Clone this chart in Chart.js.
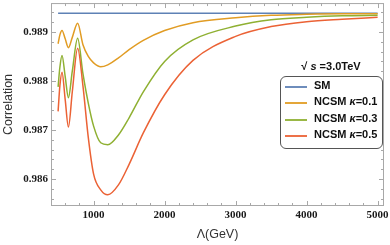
<!DOCTYPE html>
<html>
<head>
<meta charset="utf-8">
<script src="https://cdn.jsdelivr.net/npm/chart.js@4"></script>
<style>
  html, body { margin: 0; padding: 0; background: #fff; }
  #wrap { position: relative; width: 390px; height: 245px; overflow: hidden; }
  #energy {
    position: absolute; left: 286px; top: 60px; width: 90px; height: 13px;
    line-height: 13px; text-align: center;
    font: bold 11px "Liberation Sans", Arial, sans-serif; color: #111;
  }
  #legend {
    position: absolute; left: 280px; top: 76px; width: 101px; height: 71px;
    border: 1px solid #555; border-radius: 6px; background: #fff;
  }
  .row { position: absolute; left: 0; height: 16px; width: 101px; }
  .row .swatch { position: absolute; left: 4px; top: 7px; width: 22px; height: 2px; opacity: 0.9; }
  .row .txt {
    position: absolute; left: 33px; top: 0; line-height: 16px; white-space: nowrap;
    font: bold 11px "Liberation Sans", Arial, sans-serif; color: #111;
  }
</style>
</head>
<body>
<div id="wrap">
  <canvas id="corrChart" width="390" height="245"></canvas>
  <div id="energy">√ <i>s</i> =3.0TeV</div>
  <div id="legend"></div>
</div>
<script>
const lambdaPts = [500, 525, 555, 600, 645, 700, 775, 850, 925, 1000, 1100, 1200,
                   1350, 1500, 1700, 2000, 2400, 3000, 3500, 4000, 4500, 5000];

const smLambda = [500, 5000];
const smCorr = [0.98938, 0.98938];

const corrK01 = [0.98876, 0.98894, 0.98903, 0.98886, 0.98868, 0.98889, 0.98918, 0.98874,
                 0.98850, 0.98837, 0.98829, 0.98833, 0.98847, 0.98864, 0.98883, 0.98903,
                 0.98919, 0.98929, 0.98934, 0.98936, 0.98937, 0.98937];
const corrK03 = [0.98788, 0.98828, 0.98852, 0.98809, 0.98766, 0.98820, 0.98887, 0.98815,
                 0.98755, 0.98708, 0.98674, 0.98670, 0.98690, 0.98725, 0.98778, 0.98840,
                 0.98884, 0.98912, 0.98925, 0.98930, 0.98933, 0.98934];
const corrK05 = [0.98738, 0.98790, 0.98818, 0.98762, 0.98706, 0.98778, 0.98867, 0.98790,
                 0.98685, 0.98610, 0.98578, 0.98568, 0.98588, 0.98630, 0.98694, 0.98772,
                 0.98842, 0.98891, 0.98911, 0.98921, 0.98926, 0.98930];

const seriesLabels = ["SM", "NCSM κ=0.1", "NCSM κ=0.3", "NCSM κ=0.5"];
const seriesColors = ["#5E81B5", "#E19C24", "#8FB032", "#EB6235"];

// tick positions: majors get a label, minors are just marks
const xTickValues = [];
for (let v = 600; v <= 5000; v += 200) xTickValues.push(v);
const yTickValues = [];
for (let i = 0; i <= 19; i++) yTickValues.push((9856 + 2 * i) / 10000);

const toPoints = (xs, ys) => xs.map((x, i) => ({ x: x, y: ys[i] }));

// legend (html overlay)
const legendBox = document.getElementById("legend");
seriesLabels.forEach((lab, i) => {
  const row = document.createElement("div");
  row.className = "row";
  row.style.top = (1.5 + 16.5 * i) + "px";
  row.innerHTML = '<div class="swatch" style="background:' + seriesColors[i] + '"></div>' +
    '<div class="txt">' + lab.replace("κ", "<i>κ</i>") + '</div>';
  legendBox.appendChild(row);
});

// frame with inward tick marks on all four sides
const framePlugin = {
  id: "frame",
  beforeDatasetsDraw(chart) {
    const { ctx, chartArea: a, scales: { x, y } } = chart;
    ctx.save();
    ctx.strokeStyle = "#a8a8a8";
    ctx.lineWidth = 1;
    ctx.strokeRect(a.left + 0.5, a.top + 0.5, a.right - a.left - 1, a.bottom - a.top - 1);
    ctx.beginPath();
    x.ticks.forEach(t => {
      if (t.value > 5000) return;
      const px = Math.round(x.getPixelForValue(t.value)) + 0.5;
      const len = t.label ? 5 : 3;
      ctx.moveTo(px, a.bottom); ctx.lineTo(px, a.bottom - len);
      ctx.moveTo(px, a.top); ctx.lineTo(px, a.top + len);
    });
    y.ticks.forEach(t => {
      const py = Math.round(y.getPixelForValue(t.value)) + 0.5;
      const len = t.label ? 5 : 3;
      ctx.moveTo(a.left, py); ctx.lineTo(a.left + len, py);
      ctx.moveTo(a.right, py); ctx.lineTo(a.right - len, py);
    });
    ctx.stroke();
    ctx.restore();
  }
};

const lineSet = (label, data, color, order) => ({
  label: label,
  data: data,
  borderColor: color,
  borderWidth: 1.5,
  pointRadius: 0,
  fill: false,
  cubicInterpolationMode: "monotone",
  order: order
});

new Chart(document.getElementById("corrChart"), {
  type: "line",
  data: {
    datasets: [
      lineSet(seriesLabels[0], toPoints(smLambda, smCorr), seriesColors[0], 3),
      lineSet(seriesLabels[1], toPoints(lambdaPts, corrK01), seriesColors[1], 2),
      lineSet(seriesLabels[2], toPoints(lambdaPts, corrK03), seriesColors[2], 1),
      lineSet(seriesLabels[3], toPoints(lambdaPts, corrK05), seriesColors[3], 0)
    ]
  },
  options: {
    responsive: false,
    animation: false,
    layout: { padding: { top: 0, right: 6, bottom: 0, left: 0 } },
    plugins: { legend: { display: false }, tooltip: { enabled: false } },
    scales: {
      x: {
        type: "linear",
        min: 400,
        max: 5090,
        grid: { display: false, drawTicks: false },
        border: { display: false },
        afterBuildTicks: s => { s.ticks = xTickValues.concat([5090]).map(v => ({ value: v })); },
        afterFit: s => { s.height = 39; },
        ticks: {
          autoSkip: false, maxRotation: 0, minRotation: 0, padding: 3,
          color: "#1a1a1a",
          font: { family: "'Liberation Serif', 'Times New Roman', serif", size: 11, weight: "bold" },
          callback: v => (v % 1000 === 0 ? String(v) : "")
        },
        title: {
          display: true, text: "Λ(GeV)", color: "#333",
          font: { family: "'Liberation Sans', Arial, sans-serif", size: 12.5 },
          padding: { top: 0, bottom: 2.5 }
        }
      },
      y: {
        type: "linear",
        min: 0.98545,
        max: 0.98959,
        grid: { display: false, drawTicks: false },
        border: { display: false },
        afterBuildTicks: s => { s.ticks = yTickValues.map(v => ({ value: v })); },
        afterFit: s => { s.width = 51; },
        ticks: {
          autoSkip: false, padding: 3,
          color: "#1a1a1a",
          font: { family: "'Liberation Serif', 'Times New Roman', serif", size: 11, weight: "bold", lineHeight: 0.01 },
          callback: v => (Math.abs(v * 1000 - Math.round(v * 1000)) < 1e-6 ? v.toFixed(3) : "")
        },
        title: {
          display: true, text: "Correlation", color: "#333",
          font: { family: "'Liberation Sans', Arial, sans-serif", size: 12.5 },
          padding: { top: 1, bottom: 0 }
        }
      }
    }
  },
  plugins: [framePlugin]
});
</script>
</body>
</html>
